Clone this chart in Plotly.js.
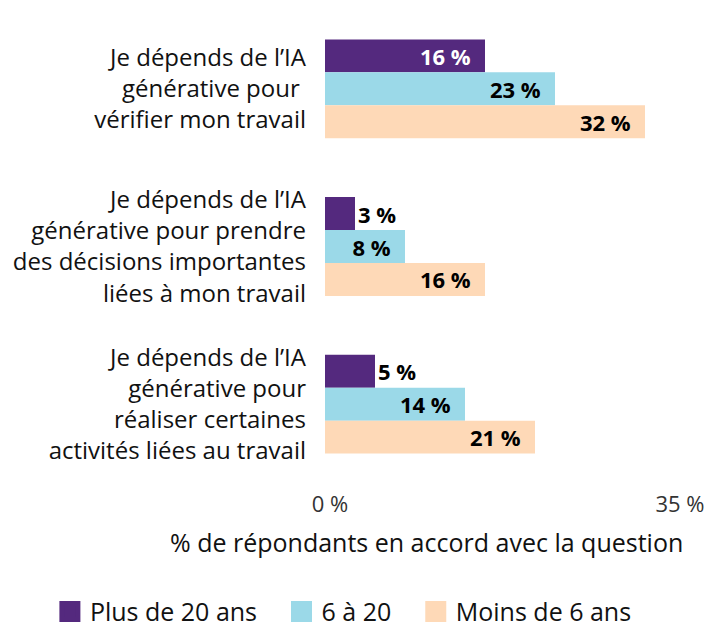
<!DOCTYPE html>
<html><head><meta charset="utf-8">
<script src="https://cdn.plot.ly/plotly-3.0.1.min.js"></script>
<style>html,body{margin:0;padding:0;background:#fff}</style>
</head><body>
<div id="chart" style="width:723px;height:627px"></div>
<script>
const categories = [
  "Je dépends de l’IA<br>générative pour <br>vérifier mon travail",
  "Je dépends de l’IA<br>générative pour prendre<br>des décisions importantes<br>liées à mon travail",
  "Je dépends de l’IA<br>générative pour<br>réaliser certaines<br>activités liées au travail"
];
const seriesNames = ["Plus de 20 ans", "6 à 20", "Moins de 6 ans"];
const plus20 = [16, 3, 5];
const six20 = [23, 8, 14];
const moins6 = [32, 16, 21];
const tickVals = [0, 35];
const tickText = ["0 %", "35 %"];
const axisTitle = "% de répondants en accord avec la question";
const colors = ["#54297e", "#9bd9e8", "#fed9b7"];
const textColors = ["#ffffff", "#000000", "#000000"];
const seriesValues = [plus20, six20, moins6];

const font = "'Open Sans', Lato, sans-serif";
const traces = seriesValues.map((vals, i) => {
  const pos = vals.map(v => v < 6 ? "outside" : "inside");
  return {
    type: "bar", orientation: "h",
    name: seriesNames[i], legendgroup: "g" + i, showlegend: false,
    y: categories, x: vals,
    marker: {color: colors[i]},
    text: vals.map((v, j) => pos[j] === "inside" ? v + " %\u00a0\u00a0" : v + " %"),
    textposition: pos,
    insidetextanchor: "end",
    constraintext: "none",
    insidetextfont: {family: font, size: 22, color: textColors[i], weight: 700},
    outsidetextfont: {family: font, size: 22, color: "#000000", weight: 700},
    textfont: {family: font, size: 22, weight: 700},
    cliponaxis: false,
    hoverinfo: "none"
  };
});
// legend entries with larger square swatches
const legendPad = "\u00a0\u00a0\u00a0";
seriesNames.forEach((n, i) => {
  traces.push({
    type: "scatter", mode: "markers", name: n + legendPad, legendgroup: "g" + i,
    x: [null], y: [null],
    marker: {symbol: "square", size: 16, color: colors[i], line: {color: colors[i], width: 5}},
    hoverinfo: "none"
  });
});

const layout = {
  width: 723, height: 627,
  margin: {l: 325, r: 48, t: 10, b: 144, autoexpand: false},
  paper_bgcolor: "#ffffff", plot_bgcolor: "#ffffff",
  font: {family: font, size: 22, color: "#111111"},
  barmode: "group",
  bargap: 0.373, bargroupgap: 0,
  showlegend: true,
  legend: {
    orientation: "h", xref: "paper", yref: "paper",
    x: -0.786, xanchor: "left", y: -0.272, yanchor: "middle",
    font: {family: font, size: 25, color: "#111111"},
    traceorder: "normal", itemwidth: 30
  },
  xaxis: {
    range: [0, 35], tickvals: tickVals, ticktext: tickText,
    showgrid: true, gridcolor: "#d4d4d4", gridwidth: 2,
    zeroline: false, showline: false,
    tickfont: {family: font, size: 22, color: "#333333"},
    ticks: "", ticklabelstandoff: 6, ticklabelshift: 5, fixedrange: true
  },
  yaxis: {
    autorange: "reversed", showgrid: false, zeroline: false, showline: false,
    ticks: "", ticklabelstandoff: 18,
    tickfont: {family: font, size: 24, color: "#111111"}
  },
  annotations: [{
    text: axisTitle,
    xref: "paper", yref: "paper", x: 0.289, y: -0.125,
    xanchor: "center", yanchor: "middle", showarrow: false,
    font: {family: font, size: 25, color: "#111111"}
  }]
};
Plotly.newPlot("chart", traces, layout, {displayModeBar: false, staticPlot: true});
</script>
</body></html>
